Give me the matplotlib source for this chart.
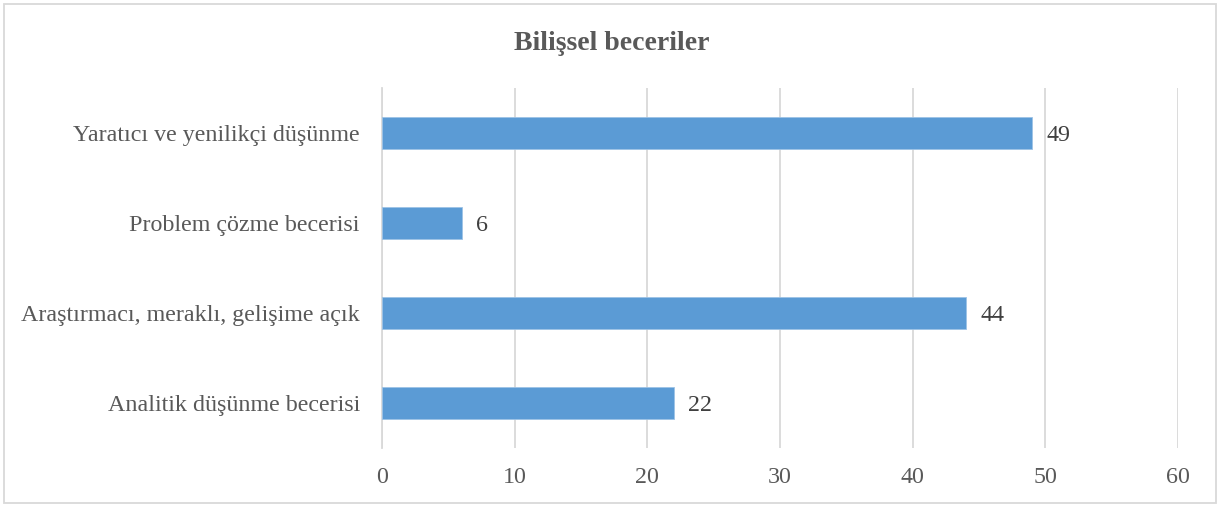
import matplotlib
matplotlib.use("Agg")
import matplotlib.pyplot as plt
from matplotlib.patches import Rectangle

categories = ["Analitik düşünme becerisi", "Araştırmacı, meraklı, gelişime açık",
              "Problem çözme becerisi", "Yaratıcı ve yenilikçi düşünme"]
values = [22, 44, 6, 49]
xticks = [0, 10, 20, 30, 40, 50, 60]
title = "Bilişsel beceriler"

plt.rcParams['font.family'] = ['Liberation Serif', 'DejaVu Serif']

fig = plt.figure(figsize=(12.21, 5.07), dpi=100)
ax = fig.add_axes([382/1221, 1-448/507, (1178-382)/1221, (448-88)/507])

bars = ax.barh(range(len(categories)), values, height=0.35, color="#5B9BD5",
               edgecolor="#9DC3E6", linewidth=0.6, zorder=3)
for i, v in enumerate(values):
    ax.text(v + 1.1, i, str(v), va="center_baseline", ha="left", fontsize=17.3, color="#404040")

ax.set_xlim(0, 60)
ax.set_ylim(-0.5, len(categories) - 0.5)
ax.set_xticks(xticks)
ax.set_yticks(range(len(categories)))
ax.set_yticklabels(categories)
for lbl in ax.get_yticklabels():
    lbl.set_verticalalignment("center_baseline")
ax.grid(axis="x", color="#D9D9D9", linewidth=1.3, zorder=0)
ax.tick_params(axis="both", length=0, labelsize=17.3, labelcolor="#595959")
ax.tick_params(axis="x", pad=14)
ax.tick_params(axis="y", pad=16)
for s in ["top", "right", "bottom"]:
    ax.spines[s].set_visible(False)
ax.spines["left"].set_color("#D9D9D9")
ax.spines["left"].set_linewidth(1.3)

fig.text(612/1221, 1-43/507, title, ha="center", va="center", fontsize=20,
         fontweight="bold", color="#595959")
fig.patches.append(Rectangle((4/1221, 4/507), 1212/1221, 499/507, transform=fig.transFigure,
                             fill=False, edgecolor="#D9D9D9", linewidth=1.3))

fig.savefig("out.png", dpi=100)
